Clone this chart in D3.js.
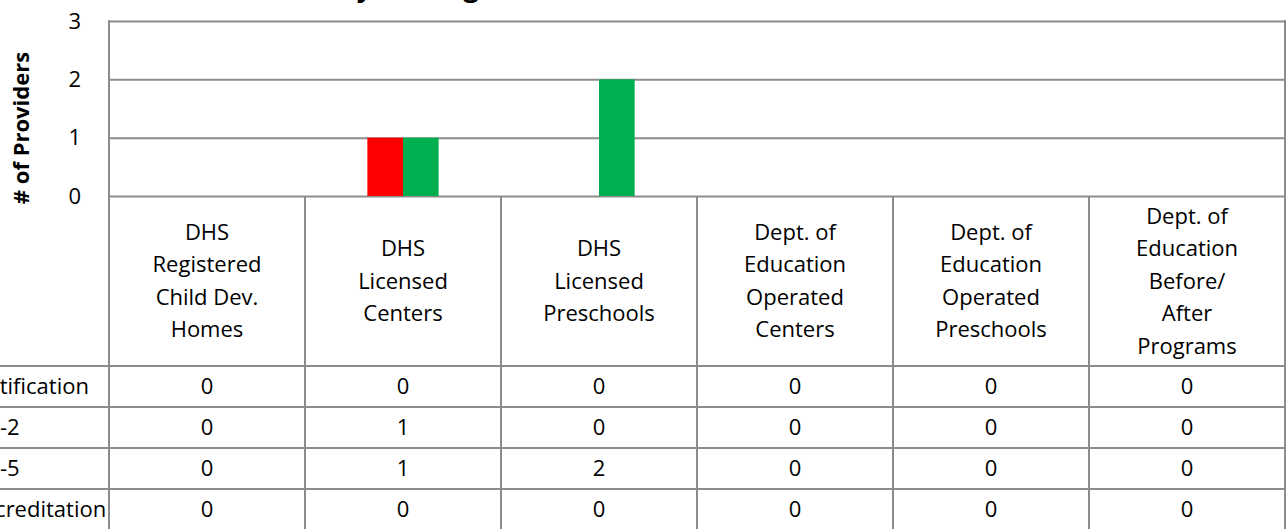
<!DOCTYPE html>
<html>
<head>
<meta charset="utf-8">
<script src="https://cdn.jsdelivr.net/npm/d3@7"></script>
<style>
  html, body { margin: 0; padding: 0; background: #fff; overflow: hidden; }
  svg { display: block; font-family: "Open Sans", "Noto Sans", sans-serif; }
</style>
</head>
<body>
<div id="chart"></div>
<script>
// chart data
var categories = [
    ["DHS", "Registered", "Child Dev.", "Homes"],
    ["DHS", "Licensed", "Centers"],
    ["DHS", "Licensed", "Preschools"],
    ["Dept. of", "Education", "Operated", "Centers"],
    ["Dept. of", "Education", "Operated", "Preschools"],
    ["Dept. of", "Education", "Before/", "After", "Programs"]
];
var seriesNames = ["No Certification", "Level 1-2", "Level 3-5", "Full Accreditation"];
var seriesColors = ["#4f81bd", "#ff0000", "#00b050", "#ffc000"];
var noCertification = [0, 0, 0, 0, 0, 0];
var level12 = [0, 1, 0, 0, 0, 0];
var level35 = [0, 1, 2, 0, 0, 0];
var accreditation = [0, 0, 0, 0, 0, 0];
var yTicks = [0, 1, 2, 3];
var titleText = "Star Rated Providers, Sites by Setting";
var yTitle = "# of Providers";

var seriesValues = [noCertification, level12, level35, accreditation];

function drawChart() {
    var W = 1288, H = 529;
    var plotL = 109, plotR = 1285, plotT = 21, plotB = 196;
    var headerBottom = 366, rowH = 41;
    var gridColor = "#8c8c8c";

    var svg = d3.select("#chart").append("svg")
	.attr("width", W)
	.attr("height", H);

    var x = d3.scaleBand()
	.domain(d3.range(categories.length))
	.range([plotL, plotR]);
    var xs = d3.scaleBand()
	.domain(d3.range(seriesNames.length))
	.range([0, x.bandwidth()])
	.paddingOuter(0.75);
    var y = d3.scaleLinear()
	.domain([0, 3])
	.range([plotB, plotT]);

    // title (mostly cut off at the top)
    var title = svg.append("text")
	.attr("font-weight", "bold")
	.attr("font-size", 28)
	.attr("y", -4)
	.text(titleText);
    var pre = title.node().getSubStringLength(0, titleText.indexOf(","));
    title.attr("x", 250 - pre);

    // gridlines + tick labels
    var yAxis = svg.append("g")
	.attr("transform", "translate(" + plotL + ",0)")
	.call(d3.axisLeft(y).tickValues(yTicks).tickFormat(d3.format("d"))
	      .tickSize(-(plotR - plotL)).tickPadding(28));
    yAxis.select(".domain").remove();
    yAxis.selectAll(".tick line")
	.attr("stroke", gridColor)
	.attr("stroke-width", 2);
    yAxis.selectAll(".tick text")
	.attr("fill", "#000")
	.attr("font-size", 22)
	.attr("font-family", "\"Open Sans\", sans-serif");

    // bars
    var bars = [];
    seriesValues.forEach(function(vals, s) {
	vals.forEach(function(v, c) {
	    bars.push({s: s, c: c, v: v});
	});
    });
    svg.append("g").selectAll("rect")
	.data(bars.filter(function(d) { return d.v > 0; }))
	.join("rect")
	.attr("x", function(d) { return x(d.c) + xs(d.s); })
	.attr("width", xs.bandwidth())
	.attr("y", function(d) { return y(d.v); })
	.attr("height", function(d) { return y(0) - y(d.v); })
	.attr("fill", function(d) { return seriesColors[d.s]; });

    // y title
    svg.append("text")
	.attr("transform", "translate(29,128) rotate(-90)")
	.attr("text-anchor", "middle")
	.attr("font-weight", "bold")
	.attr("font-size", 22)
	.text(yTitle);

    // data table lines
    var lines = svg.append("g")
	.attr("stroke", gridColor)
	.attr("stroke-width", 2);
    lines.append("line").attr("x1", plotL).attr("x2", plotL).attr("y1", plotT - 1).attr("y2", H + 5);
    lines.append("line").attr("x1", plotR).attr("x2", plotR).attr("y1", plotT - 1).attr("y2", H + 5);
    lines.selectAll(".col")
	.data(d3.range(1, categories.length))
	.join("line")
	.attr("class", "col")
	.attr("x1", function(d) { return x(d); })
	.attr("x2", function(d) { return x(d); })
	.attr("y1", plotB)
	.attr("y2", H + 5);
    lines.selectAll(".row")
	.data(d3.range(seriesNames.length + 1))
	.join("line")
	.attr("class", "row")
	.attr("x1", -5)
	.attr("x2", plotR)
	.attr("y1", function(d) { return headerBottom + d * rowH; })
	.attr("y2", function(d) { return headerBottom + d * rowH; });

    // header labels
    var lineH = 32.5;
    var hdr = svg.append("g")
	.attr("font-size", 22)
	.attr("text-anchor", "middle")
	.attr("fill", "#000");
    hdr.selectAll("text")
	.data(categories)
	.join("text")
	.attr("x", function(d, i) { return x(i) + x.bandwidth() / 2; })
	.attr("y", function(d) { return (plotB + headerBottom) / 2 - (d.length - 1) * lineH / 2; })
	.each(function(d) {
	    var t = d3.select(this);
	    d.forEach(function(s, k) {
		t.append("tspan")
		    .attr("x", t.attr("x"))
		    .attr("dy", k == 0 ? "0.35em" : lineH)
		    .text(s);
	    });
	});

    // table rows
    var rows = svg.append("g")
	.attr("font-size", 22)
	.attr("fill", "#000");
    var rowG = rows.selectAll("g")
	.data(seriesValues)
	.join("g")
	.attr("transform", function(d, i) { return "translate(0," + (headerBottom + i * rowH + rowH / 2) + ")"; });
    var names = rowG.append("text")
	.attr("dy", "0.35em")
	.text(function(d, i) { return seriesNames[i]; });
    // legend labels are left aligned and start off the left edge
    var x0 = -names.nodes()[1].getSubStringLength(0, 7);
    names.attr("x", x0);
    rowG.selectAll(".val")
	.data(function(d) { return d; })
	.join("text")
	.attr("class", "val")
	.attr("text-anchor", "middle")
	.attr("dy", "0.35em")
	.attr("x", function(d, i) { return x(i) + x.bandwidth() / 2; })
	.text(function(d) { return d; });
}

drawChart();
</script>
</body>
</html>
